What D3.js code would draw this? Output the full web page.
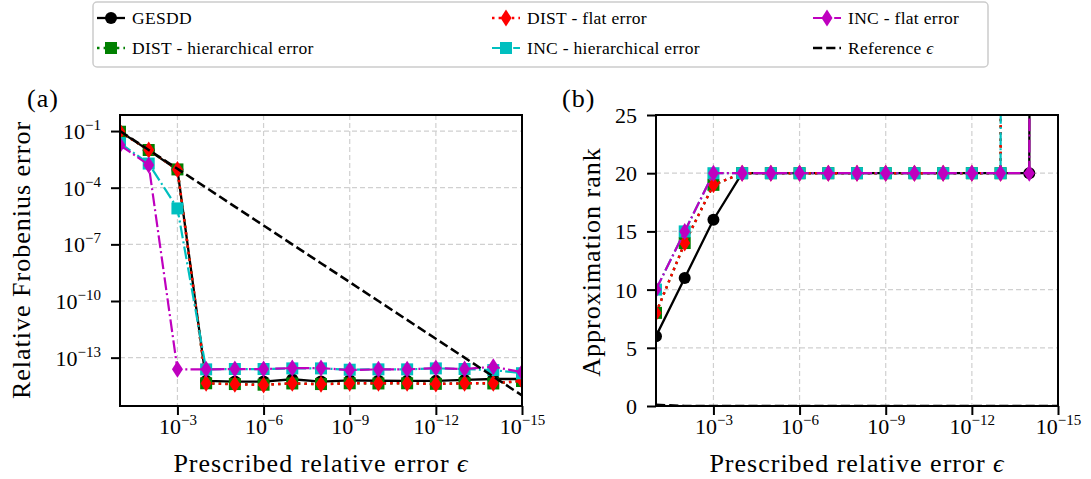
<!DOCTYPE html>
<html>
<head>
<meta charset="utf-8">
<script src="https://cdn.jsdelivr.net/npm/d3@7"></script>
<style>
  body { margin: 0; background: #fff; }
  text { font-family: "Liberation Serif", "DejaVu Serif", serif; fill: #000; }
</style>
</head>
<body>
<div id="chart"></div>
<script>
// prescribed relative error (x values, both panels)
var eps = [1e-1, 1e-2, 1e-3, 1e-4, 1e-5, 1e-6, 1e-7, 1e-8, 1e-9, 1e-10, 1e-11, 1e-12, 1e-13, 1e-14, 1e-15];

// (a) relative Frobenius error
var errGesdd    = [0.095, 0.0095, 9.0e-4, 5.9e-15, 5.4e-15, 5.4e-15, 7.2e-15, 5.4e-15, 6.3e-15, 6.0e-15, 5.9e-15, 5.9e-15, 6.6e-15, 7.4e-15, 7.4e-15];
var errDistHier = [0.092, 0.0099, 9.3e-4, 4.4e-15, 4.0e-15, 3.7e-15, 4.3e-15, 4.0e-15, 4.4e-15, 4.3e-15, 4.4e-15, 4.1e-15, 4.4e-15, 4.3e-15, 5.8e-15];
var errDistFlat = [0.092, 0.0099, 9.3e-4, 4.4e-15, 3.9e-15, 3.6e-15, 4.4e-15, 3.9e-15, 4.4e-15, 4.4e-15, 4.4e-15, 4.0e-15, 4.4e-15, 4.4e-15, 5.9e-15];
var errIncHier  = [0.023, 0.0019, 8.0e-6, 2.4e-14, 2.5e-14, 2.5e-14, 2.7e-14, 2.7e-14, 2.3e-14, 2.4e-14, 2.4e-14, 2.7e-14, 2.5e-14, 2.2e-14, 1.5e-14];
var errIncFlat  = [0.018, 0.0016, 2.4e-14, 2.4e-14, 2.5e-14, 2.5e-14, 2.8e-14, 2.8e-14, 2.2e-14, 2.4e-14, 2.4e-14, 2.8e-14, 2.5e-14, 3.3e-14, 1.7e-14];

// (b) approximation rank (full rank at the end goes off the chart)
var rankGesdd    = [6, 11, 16, 20, 20, 20, 20, 20, 20, 20, 20, 20, 20, 20, 1000];
var rankDistHier = [8, 14, 19, 20, 20, 20, 20, 20, 20, 20, 20, 20, 20, 1000, 1000];
var rankDistFlat = [8, 14, 19, 20, 20, 20, 20, 20, 20, 20, 20, 20, 20, 1000, 1000];
var rankIncHier  = [10, 15, 20, 20, 20, 20, 20, 20, 20, 20, 20, 20, 20, 1000, 1000];
var rankIncFlat  = [10, 15, 20, 20, 20, 20, 20, 20, 20, 20, 20, 20, 20, 20, 1000];

// tick values
var xTicks = [1e-3, 1e-6, 1e-9, 1e-12, 1e-15];
var errTicks = [1e-1, 1e-4, 1e-7, 1e-10, 1e-13];
var rankTicks = [0, 5, 10, 15, 20, 25];

var names = ["GESDD", "DIST - hierarchical error", "DIST - flat error",
             "INC - hierarchical error", "INC - flat error", "Reference \u03f5"];

// line styles per series
var styles = [
  { color: "#000000", dash: null,              marker: "circle",  lw: 2.3 },
  { color: "#008000", dash: "2.5,4.1",         marker: "square",  lw: 2.5 },
  { color: "#ff0000", dash: "2.5,4.1",         marker: "diamond", lw: 2.5 },
  { color: "#00bfbf", dash: "12.8,3.2,2,3.2",  marker: "square",  lw: 2.2 },
  { color: "#bf00bf", dash: "12.8,3.2,2,3.2",  marker: "diamond", lw: 2.2 },
  { color: "#000000", dash: "9.2,4",           marker: null,      lw: 2.5 }
];

var W = 1091, H = 479;
var svg = d3.select("#chart").append("svg")
  .attr("width", W).attr("height", H);

var plotTop = 115, plotBottom = 406;

function markerPath(type) {
  if (type === "circle") return d3.symbol().type(d3.symbolCircle).size(Math.PI * 36)();
  if (type === "square") return "M-6,-6H6V6H-6Z";
  if (type === "diamond") return "M0,-8.5L5.5,0L0,8.5L-5.5,0Z";
  return null;
}

function supLabel(sel, d) {
  var e = Math.round(Math.log10(d));
  sel.text(null);
  sel.append("tspan").text("10");
  sel.append("tspan").attr("dy", -9).attr("font-size", 15).text("\u2212" + Math.abs(e));
}

function panel(id, left, right, yScaleType, yDomain, yTicks, seriesData) {
  var g = svg.append("g");
  var x = d3.scaleLog().domain([1e-1, 1e-15]).range([left, right]);
  var y = (yScaleType === "log" ? d3.scaleLog() : d3.scaleLinear())
    .domain(yDomain).range([plotBottom, plotTop]);

  g.append("clipPath").attr("id", "clip" + id)
    .append("rect").attr("x", left).attr("y", plotTop)
    .attr("width", right - left).attr("height", plotBottom - plotTop);

  // grid
  g.selectAll(".vgrid").data(xTicks).enter().append("line")
    .attr("x1", function (d) { return x(d); }).attr("x2", function (d) { return x(d); })
    .attr("y1", plotTop).attr("y2", plotBottom)
    .attr("stroke", "#d0d0d0").attr("stroke-width", 1.2).attr("stroke-dasharray", "5,3");
  g.selectAll(".hgrid").data(yTicks).enter().append("line")
    .attr("x1", left).attr("x2", right)
    .attr("y1", function (d) { return y(d); }).attr("y2", function (d) { return y(d); })
    .attr("stroke", "#d0d0d0").attr("stroke-width", 1.2).attr("stroke-dasharray", "5,3");

  // series
  var plot = g.append("g").attr("clip-path", "url(#clip" + id + ")");
  seriesData.forEach(function (vals, i) {
    var st = styles[i];
    var pts = eps.map(function (e, k) { return [e, vals[k]]; });
    plot.append("path").datum(pts)
      .attr("fill", "none").attr("stroke", st.color).attr("stroke-width", st.lw)
      .attr("stroke-dasharray", st.dash)
      .attr("d", d3.line()
        .x(function (d) { return x(d[0]); })
        .y(function (d) { return y(d[1]); }));
    if (st.marker) {
      plot.selectAll(".m" + i).data(pts).enter().append("path")
        .attr("d", markerPath(st.marker))
        .attr("transform", function (d) { return "translate(" + x(d[0]) + "," + y(d[1]) + ")"; })
        .attr("fill", st.color);
    }
  });

  // axes
  var xa = g.append("g").attr("transform", "translate(0," + plotBottom + ")")
    .call(d3.axisBottom(x).tickValues(xTicks).tickSize(9).tickPadding(0));
  xa.selectAll(".tick text").attr("font-size", 22).attr("y", 28).attr("dy", 0)
    .each(function (d) { supLabel(d3.select(this), d); });

  var ya = g.append("g").attr("transform", "translate(" + left + ",0)")
    .call(d3.axisLeft(y).tickValues(yTicks).tickSize(9).tickPadding(10));
  ya.selectAll(".tick text").attr("font-size", 22).attr("dy", 7.5);
  if (yScaleType === "log") {
    ya.selectAll(".tick text").each(function (d) { supLabel(d3.select(this), d); });
  } else {
    ya.selectAll(".tick text").text(function (d) { return d; });
  }

  [xa, ya].forEach(function (a) {
    a.select(".domain").remove();
    a.selectAll(".tick line").attr("stroke", "#000").attr("stroke-width", 2);
    a.attr("font-family", null);
  });

  // frame
  g.append("rect").attr("x", left).attr("y", plotTop)
    .attr("width", right - left).attr("height", plotBottom - plotTop)
    .attr("fill", "none").attr("stroke", "#000").attr("stroke-width", 2);

  // x label
  var xl = g.append("text").attr("x", (left + right) / 2).attr("y", 472)
    .attr("text-anchor", "middle").attr("font-size", 26).attr("letter-spacing", 1);
  xl.append("tspan").text("Prescribed relative error ");
  xl.append("tspan").attr("font-style", "italic").text("\u03f5");
  return g;
}

var ga = panel("a", 120, 522, "log", [Math.pow(10, -15.56), Math.pow(10, -0.15)], errTicks,
  [errGesdd, errDistHier, errDistFlat, errIncHier, errIncFlat, eps]);
var gb = panel("b", 656, 1058, "lin", [0, 25], rankTicks,
  [rankGesdd, rankDistHier, rankDistFlat, rankIncHier, rankIncFlat, eps]);

// y labels and panel letters
svg.append("text").attr("transform", "translate(30,260) rotate(-90)")
  .attr("text-anchor", "middle").attr("font-size", 26).attr("letter-spacing", 1)
  .text("Relative Frobenius error");
svg.append("text").attr("transform", "translate(600,262) rotate(-90)")
  .attr("text-anchor", "middle").attr("font-size", 26).attr("letter-spacing", 1)
  .text("Approximation rank");
svg.append("text").attr("x", 27).attr("y", 107).attr("font-size", 26).attr("letter-spacing", 1).text("(a)");
svg.append("text").attr("x", 562).attr("y", 107).attr("font-size", 26).attr("letter-spacing", 1).text("(b)");

// legend: 3 columns, filled column by column
var lg = svg.append("g");
lg.append("rect").attr("x", 93).attr("y", 2).attr("width", 895).attr("height", 65)
  .attr("rx", 4).attr("fill", "#fff").attr("stroke", "#cccccc").attr("stroke-width", 1.5);
var colX = [97, 492, 813], rowY = [18, 48];
names.forEach(function (n, i) {
  var cx = colX[Math.floor(i / 2)], cy = rowY[i % 2];
  var st = styles[i];
  var e = lg.append("g").attr("transform", "translate(" + cx + "," + cy + ")");
  e.append("line").attr("x1", 0).attr("x2", 28).attr("y1", 0).attr("y2", 0)
    .attr("stroke", st.color).attr("stroke-width", st.lw).attr("stroke-dasharray", st.dash);
  if (st.marker) {
    e.append("path").attr("d", markerPath(st.marker))
      .attr("transform", "translate(14,0)").attr("fill", st.color);
  }
  var t = e.append("text").attr("x", 35).attr("y", 6).attr("font-size", 17.5).attr("letter-spacing", 0.3);
  if (i === 5) {
    t.append("tspan").text("Reference ");
    t.append("tspan").attr("font-style", "italic").text("\u03f5");
  } else {
    t.text(n);
  }
});
</script>
</body>
</html>
